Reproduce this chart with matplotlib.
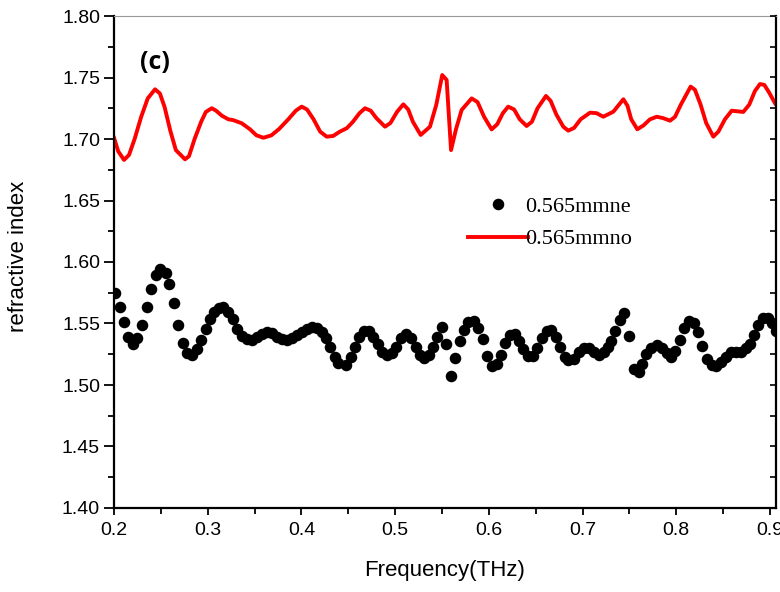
import matplotlib
matplotlib.use("Agg")
import matplotlib.pyplot as plt
from matplotlib.ticker import MultipleLocator, FixedLocator
import numpy as np

# ---- data: ordinary index (red line) ----
no_freq = [0.200, 0.2045, 0.2107, 0.216, 0.222, 0.229, 0.236, 0.2438, 0.249, 0.254,
           0.260, 0.266, 0.2758, 0.280, 0.286, 0.293, 0.298, 0.3043, 0.309, 0.315,
           0.322, 0.327, 0.3363, 0.345, 0.352, 0.3594, 0.368, 0.376, 0.386, 0.394,
           0.4003, 0.406, 0.413, 0.420, 0.427, 0.434, 0.441, 0.4483, 0.455, 0.462,
           0.4679, 0.474, 0.480, 0.4892, 0.495, 0.502, 0.5088, 0.514, 0.519, 0.5273,
           0.5372, 0.544, 0.5503, 0.555, 0.5597, 0.565, 0.571, 0.5817, 0.588, 0.595,
           0.603, 0.609, 0.615, 0.6207, 0.627, 0.633, 0.6403, 0.646, 0.652, 0.661,
           0.666, 0.672, 0.6795, 0.6848, 0.691, 0.698, 0.708, 0.715, 0.7222, 0.7329,
           0.7436, 0.748, 0.752, 0.7585, 0.765, 0.772, 0.7792, 0.786, 0.7934, 0.7987,
           0.805, 0.8154, 0.820, 0.826, 0.832, 0.8396, 0.845, 0.852, 0.8592, 0.8716,
           0.878, 0.884, 0.8894, 0.894, 0.899, 0.9055]
no_vals = [1.701, 1.690, 1.683, 1.687, 1.700, 1.718, 1.733, 1.7404, 1.737, 1.726,
           1.707, 1.691, 1.6835, 1.686, 1.700, 1.714, 1.722, 1.725, 1.723, 1.719,
           1.716, 1.7154, 1.7128, 1.708, 1.703, 1.701, 1.703, 1.708, 1.716, 1.723,
           1.7263, 1.724, 1.716, 1.706, 1.7019, 1.7025, 1.706, 1.7087, 1.714, 1.721,
           1.725, 1.723, 1.717, 1.710, 1.713, 1.722, 1.7282, 1.724, 1.714, 1.7033,
           1.710, 1.728, 1.752, 1.748, 1.691, 1.708, 1.7236, 1.733, 1.730, 1.718,
           1.7078, 1.712, 1.721, 1.7263, 1.724, 1.716, 1.7106, 1.714, 1.725, 1.735,
           1.731, 1.720, 1.710, 1.7068, 1.709, 1.716, 1.7214, 1.721, 1.7181, 1.7222,
           1.7323, 1.727, 1.716, 1.7079, 1.711, 1.716, 1.7181, 1.717, 1.7149, 1.718,
           1.728, 1.7426, 1.740, 1.728, 1.713, 1.7019, 1.706, 1.716, 1.723, 1.722,
           1.728, 1.739, 1.7447, 1.744, 1.738, 1.729]

# ---- data: extraordinary index (black dots) ----
ne_freq = [0.201, 0.2064, 0.2107, 0.2153, 0.220, 0.2249, 0.2302, 0.2348, 0.2394, 0.2444,
           0.249, 0.255, 0.2589, 0.2639, 0.2685, 0.2732, 0.2781, 0.2828, 0.2881, 0.2927,
           0.2977, 0.3023, 0.307, 0.312, 0.3166, 0.3219, 0.3266, 0.3309, 0.3362, 0.3416,
           0.3469, 0.3523, 0.3576, 0.3629, 0.3683, 0.3736, 0.3789, 0.3843, 0.3896, 0.395,
           0.4003, 0.4056, 0.411, 0.4163, 0.4216, 0.4262, 0.4305, 0.4358, 0.4394, 0.4476,
           0.4526, 0.4572, 0.4618, 0.4668, 0.4722, 0.4767, 0.4814, 0.4863, 0.491, 0.4963,
           0.5009, 0.5059, 0.5116, 0.5169, 0.5219, 0.5265, 0.5311, 0.5362, 0.5407, 0.545,
           0.550, 0.5546, 0.5597, 0.5639, 0.5689, 0.5735, 0.5781, 0.5842, 0.5888, 0.5934,
           0.5984, 0.603, 0.6083, 0.6126, 0.6173, 0.6226, 0.628, 0.6326, 0.6369, 0.6422,
           0.6469, 0.6518, 0.6565, 0.6618, 0.6664, 0.6717, 0.676, 0.6813, 0.685, 0.6905,
           0.6958, 0.7013, 0.7067, 0.712, 0.7175, 0.7229, 0.7277, 0.730, 0.7345, 0.740,
           0.7447, 0.7501, 0.7548, 0.7598, 0.7638, 0.7681, 0.7736, 0.779, 0.7844, 0.7899,
           0.7946, 0.799, 0.8037, 0.808, 0.8134, 0.8189, 0.8233, 0.828, 0.8327, 0.8377,
           0.8424, 0.8478, 0.8533, 0.8587, 0.8642, 0.8696, 0.8743, 0.8786, 0.8833, 0.8877,
           0.8924, 0.8975, 0.9022, 0.9069]
ne_vals = [1.575, 1.5637, 1.551, 1.5388, 1.533, 1.538, 1.5488, 1.5637, 1.5778, 1.5894,
           1.5943, 1.5913, 1.5818, 1.5664, 1.5488, 1.5344, 1.5257, 1.5244, 1.529, 1.5366,
           1.5455, 1.5537, 1.5597, 1.5629, 1.5637, 1.5597, 1.5537, 1.5455, 1.5398, 1.5371,
           1.5366, 1.5388, 1.5415, 1.5433, 1.542, 1.5393, 1.5371, 1.5366, 1.538, 1.5407,
           1.5433, 1.5455, 1.5469, 1.546, 1.5433, 1.538, 1.5306, 1.523, 1.5176, 1.5163,
           1.5225, 1.5306, 1.5388, 1.5439, 1.5439, 1.5393, 1.533, 1.5271, 1.5244, 1.5257,
           1.5311, 1.538, 1.5412, 1.538, 1.5311, 1.5244, 1.5217, 1.5244, 1.5311, 1.5388,
           1.5474, 1.533, 1.5076, 1.5222, 1.536, 1.5447, 1.5515, 1.5523, 1.5461, 1.5374,
           1.5238, 1.5154, 1.5168, 1.5244, 1.5339, 1.5407, 1.5415, 1.536, 1.529, 1.5236,
           1.5236, 1.5298, 1.538, 1.5441, 1.5447, 1.5388, 1.5306, 1.523, 1.520, 1.5215,
           1.527, 1.5298, 1.5304, 1.527, 1.5244, 1.527, 1.5312, 1.5354, 1.5436, 1.5532,
           1.5588, 1.540, 1.5128, 1.5106, 1.5174, 1.5249, 1.5298, 1.5325, 1.5298, 1.5263,
           1.5229, 1.5276, 1.5368, 1.5463, 1.5519, 1.5505, 1.5428, 1.5318, 1.5215, 1.516,
           1.5152, 1.5188, 1.5229, 1.5265, 1.527, 1.527, 1.5298, 1.5331, 1.5403, 1.5491,
           1.5546, 1.5546, 1.5505, 1.5436]

x_ticks = [0.2, 0.3, 0.4, 0.5, 0.6, 0.7, 0.8, 0.9]
x_ticklabels = ["0.2", "0.3", "0.4", "0.5", "0.6", "0.7", "0.8", "0.9"]
y_ticks = [1.40, 1.45, 1.50, 1.55, 1.60, 1.65, 1.70, 1.75, 1.80]
y_ticklabels = ["1.40", "1.45", "1.50", "1.55", "1.60", "1.65", "1.70", "1.75", "1.80"]
label_ne = "0.565mmne"
label_no = "0.565mmno"

plt.rcParams['font.family'] = ['Liberation Sans', 'DejaVu Sans']

fig = plt.figure(figsize=(7.8, 5.92), dpi=100)
ax = fig.add_axes([114/780, 1-508/592, 662/780, 492/592])

ax.plot(ne_freq, ne_vals, linestyle='none', marker='o', markersize=7.3,
        color='black', label=label_ne, zorder=3)
ax.plot(no_freq, no_vals, color='#ff0000', linewidth=2.8, label=label_no, zorder=2,
        solid_joinstyle='round')

ax.set_xlim(0.2, 0.9065)
ax.set_ylim(1.40, 1.80)

ax.xaxis.set_major_locator(FixedLocator(x_ticks))
ax.set_xticklabels(x_ticklabels)
ax.xaxis.set_minor_locator(MultipleLocator(0.05))
ax.yaxis.set_major_locator(FixedLocator(y_ticks))
ax.set_yticklabels(y_ticklabels)
ax.yaxis.set_minor_locator(MultipleLocator(0.025))

ax.tick_params(axis='y', which='major', direction='out', length=7, width=1.3,
               labelsize=14, pad=3, right=False)
ax.tick_params(axis='y', which='minor', direction='out', length=4, width=1.3, right=False)
ax.tick_params(axis='x', which='major', direction='out', length=5, width=1.3,
               labelsize=14, pad=5, top=False)
ax.tick_params(axis='x', which='minor', direction='out', length=4, width=1.3, top=False)

for s in ['left', 'bottom', 'right']:
    ax.spines[s].set_linewidth(1.6)
    ax.spines[s].set_color('black')
ax.spines['top'].set_linewidth(0.8)
ax.spines['top'].set_color('#999999')

# right-side inward ticks
ax2 = ax.twinx()
ax2.set_ylim(ax.get_ylim())
ax2.yaxis.set_major_locator(MultipleLocator(0.025))
ax2.tick_params(axis='y', which='major', direction='in', length=4, width=1.2,
                labelright=False)
for s in ax2.spines.values():
    s.set_visible(False)

ax.set_xlabel("Frequency(THz)", fontsize=16)
ax.xaxis.set_label_coords(0.5, -0.105)
fig.text(19/780, 1-256/592, "refractive index", rotation=90, ha='center', va='center',
         fontsize=16)

ax.text(0.062, 0.9065, "(c)", transform=ax.transAxes, ha='center', va='center',
        fontsize=18, fontweight='bold', family=['Open Sans', 'DejaVu Sans'])

leg = ax.legend(loc='upper left', bbox_to_anchor=(0.5350, 0.634), frameon=False,
                prop={'family': 'Liberation Serif', 'size': 16},
                handlelength=2.7, handletextpad=-0.15, labelspacing=0.55,
                borderpad=0, borderaxespad=0)

fig.savefig("out.png", dpi=100)
